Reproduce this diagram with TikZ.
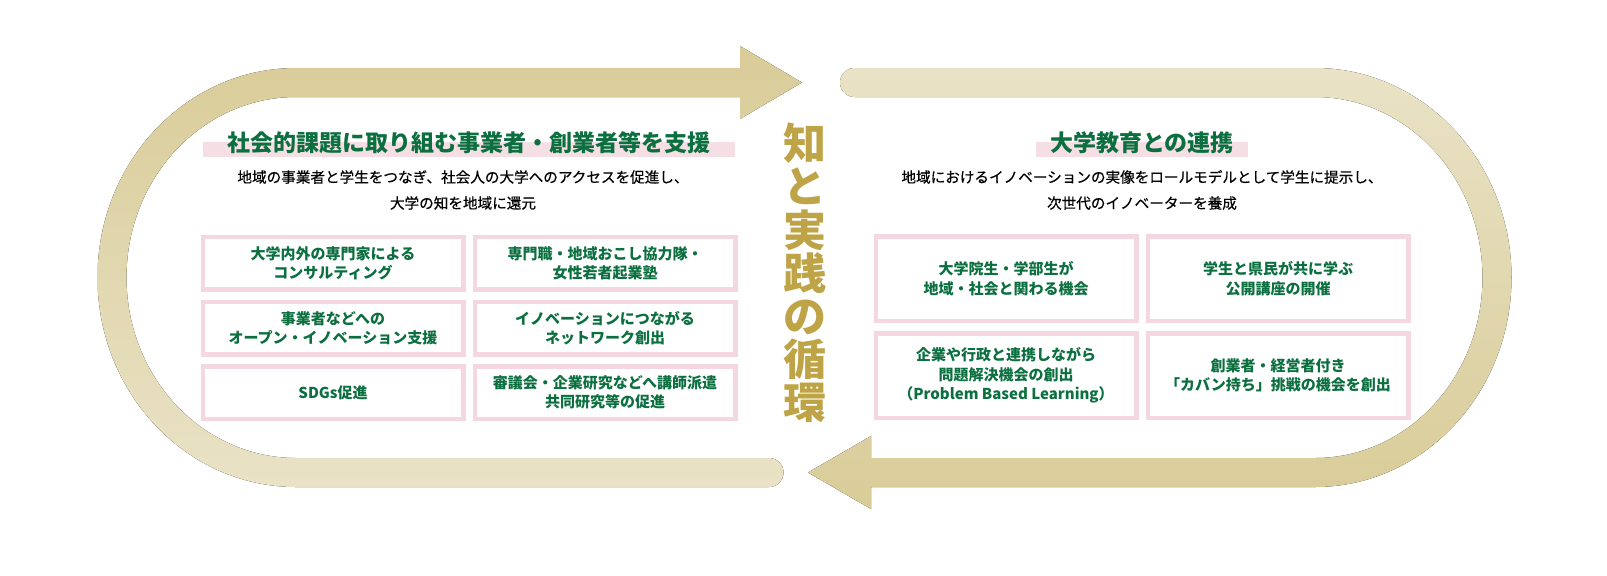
\documentclass[tikz,border=0pt]{standalone}
\usepackage{fontspec}
\setmainfont{Noto Sans CJK JP}
\newfontfamily\heavyjp{Noto Sans CJK JP}[UprightFont=*,BoldFont=*,BoldFeatures={FakeBold=1.6}]
\newfontfamily\midjp{Noto Sans CJK JP}[FakeBold=0.5]
\usepackage{tikz}
\definecolor{gkGreen}{HTML}{0B6F3F}
\definecolor{gkGold}{HTML}{BEA447}
\definecolor{gkPink}{HTML}{F4D7E0}
\definecolor{gkBar}{HTML}{F6DEE5}
\definecolor{gkSandA}{HTML}{D9CC98}
\definecolor{gkSandB}{HTML}{E9E2C6}
\tikzset{
 item/.style={draw=gkPink,line width=2.25pt,fill=white,inner sep=0pt,
  minimum width=130.25pt,minimum height=26.25pt,align=center,
  text=gkGreen,font=\bfseries\fontsize{7.5}{9.5}\selectfont},
 itemtall/.style={item,minimum height=42.25pt,
  font=\bfseries\fontsize{7.5}{9.75}\selectfont},
 heading/.style={text=gkGreen,inner sep=0pt,font=\bfseries\fontsize{11.5}{14}\selectfont},
 lead/.style={align=center,inner sep=0pt,font=\midjp\fontsize{7.3}{13}\selectfont},
 cycletext/.style={text=gkGold,align=center,inner sep=0pt,
  font=\bfseries\fontsize{21.5}{21.6}\selectfont}
}
\begin{document}
\begin{tikzpicture}[x=0.5pt,y=-0.5pt]
 \useasboundingbox (0,0) rectangle (1607,575);
 \fill [top color=gkSandA,bottom color=gkSandB] (740,68) -- (740,46) -- (802,82.5) -- (740,119) -- (740,97) -- (296,97)
  arc [start angle=270,end angle=90,x radius=169.5,y radius=180.5] -- (769,458)
  arc [start angle=270,end angle=450,radius=14.5] -- (296,487)
  arc [start angle=90,end angle=270,x radius=198.5,y radius=209.5] -- cycle;
 \fill [top color=gkSandB,bottom color=gkSandA] (854.5,68) -- (1315,68)
  arc [start angle=270,end angle=450,x radius=196.5,y radius=209.5] -- (871,487) -- (871,509) -- (808,472.5) -- (871,436) -- (871,458) -- (1315,458)
  arc [start angle=90,end angle=-90,x radius=167.5,y radius=180.5] -- (854.5,97)
  arc [start angle=90,end angle=270,radius=14.5] -- cycle;
 \fill [gkBar] (203,142) rectangle (735,157);
 \fill [gkBar] (1036,142) rectangle (1248,157);
 \node [heading] (H1) at (469,143) {社会的課題に取り組む事業者・創業者等を支援};
 \node [heading] (H2) at (1142,143) {大学教育との連携};
 \node [lead] (D1) at (463,190) {地域の事業者と学生をつなぎ、社会人の大学へのアクセスを促進し、\\大学の知を地域に還元};
 \node [lead] (D2) at (1142,190) {地域におけるイノベーションの実像をロールモデルとして学生に提示し、\\次世代のイノベーターを養成};
 \node [item] (L1) at (333,263) {大学内外の専門家による\\コンサルティング};
 \node [item] (L2) at (605,263) {専門職・地域おこし協力隊・\\女性若者起業塾};
 \node [item] (L3) at (333,328) {事業者などへの\\オープン・イノベーション支援};
 \node [item] (L4) at (605,328) {イノベーションにつながる\\ネットワーク創出};
 \node [item] (L5) at (333,392.5) {SDGs促進};
 \node [item] (L6) at (605,392.5) {審議会・企業研究などへ講師派遣\\共同研究等の促進};
 \node [itemtall] (R1) at (1006,278.5) {大学院生・学部生が\\地域・社会と関わる機会};
 \node [itemtall] (R2) at (1278,278.5) {学生と県民が共に学ぶ\\公開講座の開催};
 \node [itemtall] (R3) at (1006,375.5) {企業や行政と連携しながら\\問題解決機会の創出\\（Problem Based Learning）};
 \node [itemtall] (R4) at (1278,375.5) {創業者・経営者付き\\「カバン持ち」挑戦の機会を創出};
 \node [cycletext] (C) at (805,273) {知\\と\\実\\践\\の\\循\\環};
\end{tikzpicture}
\end{document}
